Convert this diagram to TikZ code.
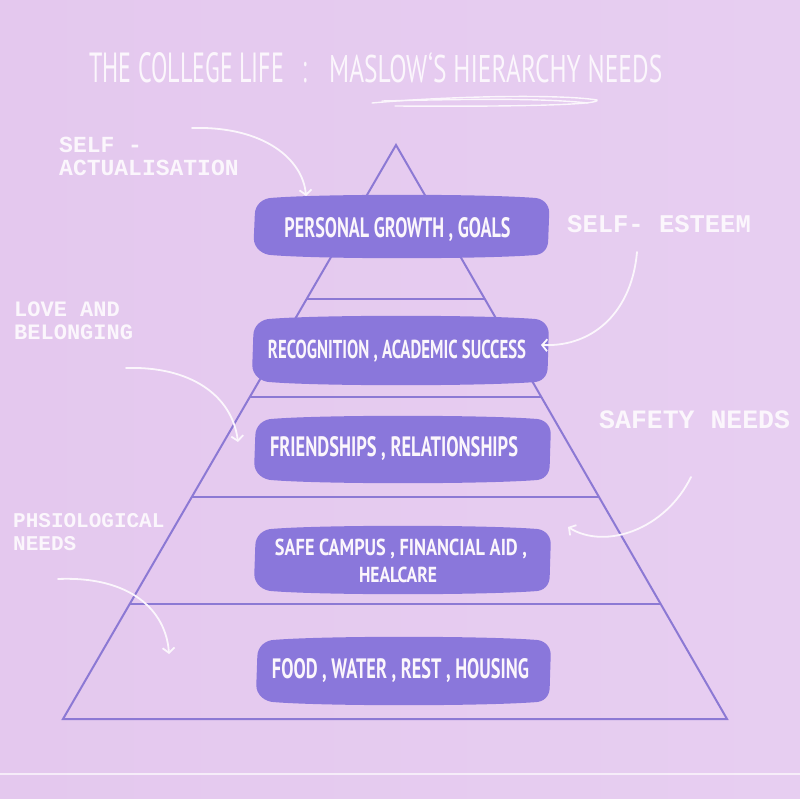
\documentclass[tikz,border=0pt]{standalone}
\usepackage{fontspec}
\usepackage{graphicx}
\usetikzlibrary{arrows.meta}
\newfontfamily\condfont{PT Sans}
\newfontfamily\labelfont{Liberation Mono}
\definecolor{bgL}{HTML}{E4C8EE}
\definecolor{bgM}{HTML}{DCBDE8}
\definecolor{bgR}{HTML}{E7CEF1}
\definecolor{boxfill}{HTML}{8A77DB}
\definecolor{pyrline}{HTML}{8C79D4}
\definecolor{softwhite}{HTML}{FBF6FC}
\tikzset{
  stagebox/.style={draw=none, fill=none, inner sep=0pt},
  boxtext/.style={text=softwhite, inner sep=0pt, font=\condfont\bfseries, anchor=base},
  titletext/.style={text=softwhite, inner sep=0pt, font=\condfont, anchor=base west},
  lblsmall/.style={text=softwhite, inner sep=0pt, anchor=base west, font=\labelfont\bfseries\fontsize{23}{23}\selectfont},
  lblbig/.style={text=softwhite, inner sep=0pt, anchor=base west, font=\labelfont\bfseries\fontsize{25.5}{26}\selectfont},
  pyr/.style={draw=pyrline, line width=2pt, line join=miter},
  pointer/.style={draw=softwhite, line width=1.8pt, line cap=round, -{Straight Barb[length=5pt,width=12pt,line width=1.8pt]}},
  swoosh/.style={draw=softwhite, line width=1.4pt, line cap=round}
}
% blob drawn around a named (invisible) node: rounded box with slightly bowed edges
\newcommand{\blobfill}[1]{%
  \fill[boxfill]
    ([shift={(18,0)}]#1.north west)
    .. controls ([shift={(70,-4)}]#1.north west) and ([shift={(-70,-4)}]#1.north east) .. ([shift={(-15,0)}]#1.north east)
    .. controls ([shift={(-6,0)}]#1.north east) and ([shift={(1,6)}]#1.north east) .. ([shift={(1,15)}]#1.north east)
    -- ([shift={(0,-15)}]#1.south east)
    .. controls ([shift={(0,-6)}]#1.south east) and ([shift={(-6,0)}]#1.south east) .. ([shift={(-15,0)}]#1.south east)
    .. controls ([shift={(-70,4)}]#1.south east) and ([shift={(70,4)}]#1.south west) .. ([shift={(18,0)}]#1.south west)
    .. controls ([shift={(8,0)}]#1.south west) and ([shift={(-1,-7)}]#1.south west) .. ([shift={(-1,-17)}]#1.south west)
    -- ([shift={(0,17)}]#1.north west)
    .. controls ([shift={(0,7)}]#1.north west) and ([shift={(8,0)}]#1.north west) .. cycle;}
\begin{document}
\begin{tikzpicture}[x=1pt,y=-1pt]
\useasboundingbox (0,0) rectangle (800,799);
\shade[left color=bgL, middle color=bgM, right color=bgR] (0,0) rectangle (800,799);
% bottom white line
\draw[draw=softwhite, line width=2.5pt, opacity=0.8] (0,774) -- (800,774);

% pyramid
\coordinate (apex) at (396,145);
\coordinate (bl) at (63,719);
\coordinate (br) at (727,719);
\draw[pyr] (apex) -- (bl) -- (br) -- cycle;
\draw[pyr] (306.7,299) -- (484.8,299);
\draw[pyr] (249.8,397) -- (541.3,397);
\draw[pyr] (191.8,497) -- (599.0,497);
\draw[pyr] (129.7,604) -- (660.7,604);

% title
\node[titletext] (title1) at (89,83) {\resizebox{195pt}{30pt}{THE COLLEGE LIFE}};
\node[text=softwhite, inner sep=0pt, anchor=base] (colon) at (305,83) {\condfont\fontsize{40}{40}\selectfont\scalebox{0.55}[1]{:}};
\node[titletext] (title2) at (329,83) {\resizebox{333pt}{30pt}{MASLOW‘S HIERARCHY NEEDS}};
\draw[swoosh] (372,103) .. controls (450,96) and (560,94) .. (597,100) .. controls (601,104) and (540,107) .. (395,106);
\draw[swoosh] (382,101) .. controls (470,99) and (540,98) .. (588,103);

% boxes
\node[stagebox, minimum width=293pt, minimum height=57pt] (b1) at (401.5,226.5) {};
\node[stagebox, minimum width=294pt, minimum height=63pt] (b2) at (400.5,350.5) {};
\node[stagebox, minimum width=294pt, minimum height=61pt] (b3) at (402.5,449.5) {};
\node[stagebox, minimum width=294pt, minimum height=62pt] (b4) at (402.5,560) {};
\node[stagebox, minimum width=292pt, minimum height=62pt] (b5) at (403.5,671) {};
\blobfill{b1}
\blobfill{b2}
\blobfill{b3}
\blobfill{b4}
\blobfill{b5}

\node[boxtext] (t1) at (397.5,238) {\resizebox{226pt}{20pt}{PERSONAL GROWTH , GOALS}};
\node[boxtext] (t2) at (397,358.5) {\resizebox{258pt}{18.5pt}{RECOGNITION , ACADEMIC SUCCESS}};
\node[boxtext] (t3) at (394,456) {\resizebox{248pt}{20pt}{FRIENDSHIPS , RELATIONSHIPS}};
\node[boxtext] (t4a) at (401,555) {\resizebox{252pt}{16.5pt}{SAFE CAMPUS , FINANCIAL AID ,}};
\node[boxtext] (t4b) at (398,582) {\resizebox{78pt}{15.5pt}{HEALCARE}};
\node[boxtext] (t5) at (400.5,678) {\resizebox{257pt}{20pt}{FOOD , WATER , REST , HOUSING}};

% labels
\node[lblsmall] (l1a) at (59,153) {SELF -};
\node[lblsmall] (l1b) at (59,176) {ACTUALISATION};
\node[lblbig] (l2) at (567,233) {SELF- ESTEEM};
\node[lblsmall, font=\labelfont\bfseries\fontsize{22}{22}\selectfont] (l3a) at (14,317) {LOVE AND};
\node[lblsmall, font=\labelfont\bfseries\fontsize{22}{22}\selectfont] (l3b) at (14,340) {BELONGING};
\node[lblbig, font=\labelfont\bfseries\fontsize{26.5}{27}\selectfont] (l4) at (599,428) {SAFETY NEEDS};
\node[lblsmall, font=\labelfont\bfseries\fontsize{21}{21}\selectfont] (l5a) at (13,527) {PHSIOLOGICAL};
\node[lblsmall, font=\labelfont\bfseries\fontsize{21}{21}\selectfont] (l5b) at (13,550) {NEEDS};

% arrows
\coordinate (s1) at (192,128); \coordinate (e1) at (306,196);
\coordinate (s2) at (637,252); \coordinate (e2) at (541,345);
\coordinate (s3) at (126,368); \coordinate (e3) at (238,442);
\coordinate (s4) at (691,477); \coordinate (e4) at (568,527);
\coordinate (s5) at (58,579);  \coordinate (e5) at (169,654);
\draw[pointer] (s1) .. controls (265,126) and (303,160) .. (e1);
\draw[pointer] (s2) .. controls (632,310) and (595,347) .. (e2);
\draw[pointer] (s3) .. controls (190,366) and (232,395) .. (e3);
\draw[pointer] (s4) .. controls (665,530) and (605,550) .. (e4);
\draw[pointer] (s5) .. controls (130,576) and (166,610) .. (e5);
\end{tikzpicture}
\end{document}
